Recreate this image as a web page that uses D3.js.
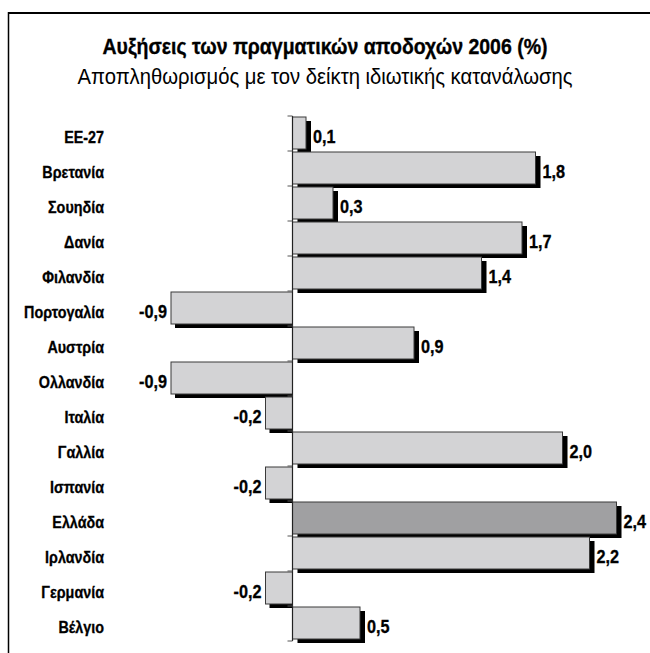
<!DOCTYPE html>
<html>
<head>
<meta charset="utf-8">
<script src="https://cdn.jsdelivr.net/npm/d3@7"></script>
<style>
  html, body { margin: 0; padding: 0; background: #fff; }
  svg { display: block; }
  text { font-family: "Liberation Sans", Arial, sans-serif; }
</style>
</head>
<body>
<div id="chart"></div>
<script>
const categories = ["ΕΕ-27", "Βρετανία", "Σουηδία", "Δανία", "Φιλανδία", "Πορτογαλία", "Αυστρία", "Ολλανδία", "Ιταλία", "Γαλλία", "Ισπανία", "Ελλάδα", "Ιρλανδία", "Γερμανία", "Βέλγιο"];
const values = [0.1, 1.8, 0.3, 1.7, 1.4, -0.9, 0.9, -0.9, -0.2, 2.0, -0.2, 2.4, 2.2, -0.2, 0.5];
const highlight = ["Ελλάδα"];
const titleText = "Αυξήσεις των πραγματικών αποδοχών 2006 (%)";
const subtitleText = "Αποπληθωρισμός με τον δείκτη ιδιωτικής κατανάλωσης";

const W = 650, H = 653;
const svg = d3.select("#chart").append("svg").attr("width", W).attr("height", H);
svg.append("rect").attr("width", W).attr("height", H).attr("fill", "#fff");

function measure(str, size, weight) {
  const t = svg.append("text").attr("font-size", size).attr("font-weight", weight).text(str);
  const w = t.node().getComputedTextLength();
  t.remove();
  return w;
}

// frame (top and left lines)
svg.append("line").attr("x1", 8).attr("x2", W).attr("y1", 13).attr("y2", 13)
  .attr("stroke", "#000").attr("stroke-width", 2);
svg.append("line").attr("x1", 8.5).attr("x2", 8.5).attr("y1", 12).attr("y2", H)
  .attr("stroke", "#000").attr("stroke-width", 1.5);

// titles
svg.append("text").attr("x", 325).attr("y", 54)
  .attr("text-anchor", "middle").attr("font-weight", "bold").attr("font-size", 22)
  .attr("stroke", "#000").attr("stroke-width", 0.35)
  .attr("textLength", 445).attr("lengthAdjust", "spacingAndGlyphs")
  .text(titleText);
svg.append("text").attr("x", 325).attr("y", 84)
  .attr("text-anchor", "middle").attr("font-size", 22)
  .attr("textLength", 495).attr("lengthAdjust", "spacingAndGlyphs")
  .text(subtitleText);

const x = d3.scaleLinear().domain([-0.9, 2.4]).range([171, 616.5]);
const y = d3.scaleBand().domain(categories).range([116, 116 + 35 * categories.length]).paddingInner(0).paddingOuter(0);

const data = categories.map((c, i) => ({ c, v: values[i] }));
const barH = y.bandwidth() - 3;

const g = svg.append("g");
// shadows (clipped at the zero line for negative bars)
g.selectAll("rect.shadow").data(data).join("rect")
  .attr("class", "shadow")
  .attr("x", d => d.v >= 0 ? x(0) + 5 : x(d.v) + 4)
  .attr("y", d => y(d.c) + 1 + 4)
  .attr("width", d => d.v >= 0 ? x(d.v) - x(0) : x(0) - x(d.v) - 4)
  .attr("height", barH)
  .attr("fill", "#000");
// bars
g.selectAll("rect.bar").data(data).join("rect")
  .attr("class", "bar")
  .attr("x", d => x(Math.min(0, d.v)))
  .attr("y", d => y(d.c) + 1)
  .attr("width", d => Math.abs(x(d.v) - x(0)))
  .attr("height", barH)
  .attr("fill", d => highlight.includes(d.c) ? "#a0a0a2" : "#d3d3d5")
  .attr("stroke", "#3a3a3a").attr("stroke-width", 1);

// zero axis with ticks at band boundaries
const tickYs = categories.map(c => y(c)).concat([y.range()[1]]);
svg.append("line").attr("x1", x(0)).attr("x2", x(0))
  .attr("y1", y.range()[0]).attr("y2", y.range()[1])
  .attr("stroke", "#222").attr("stroke-width", 1.2);
svg.selectAll("line.tick").data(tickYs).join("line")
  .attr("class", "tick")
  .attr("x1", x(0) - 5).attr("x2", x(0))
  .attr("y1", d => d).attr("y2", d => d)
  .attr("stroke", "#555").attr("stroke-width", 1);

// category labels (horizontally condensed)
const catSize = 16;
const catScale = 80 / measure("Πορτογαλία", catSize, "bold");
svg.selectAll("text.cat").data(data).join("text")
  .attr("class", "cat")
  .attr("transform", d => `translate(104,${y(d.c) + 27}) scale(${catScale},1)`)
  .attr("text-anchor", "end").attr("font-weight", "bold").attr("font-size", catSize)
  .attr("stroke", "#000").attr("stroke-width", 0.3)
  .text(d => d.c);

// value labels
const fmt = v => v.toFixed(1).replace(".", ",");
const valSize = 18;
const valScale = 28 / measure("-0,9", valSize, "bold");
svg.selectAll("text.val").data(data).join("text")
  .attr("class", "val")
  .attr("transform", d => `translate(${d.v >= 0 ? x(d.v) + 7 : x(d.v) - 4},${y(d.c) + 26.5}) scale(${valScale},1)`)
  .attr("text-anchor", d => d.v >= 0 ? "start" : "end")
  .attr("font-weight", "bold").attr("font-size", valSize)
  .attr("stroke", "#000").attr("stroke-width", 0.3)
  .text(d => fmt(d.v));
</script>
</body>
</html>
